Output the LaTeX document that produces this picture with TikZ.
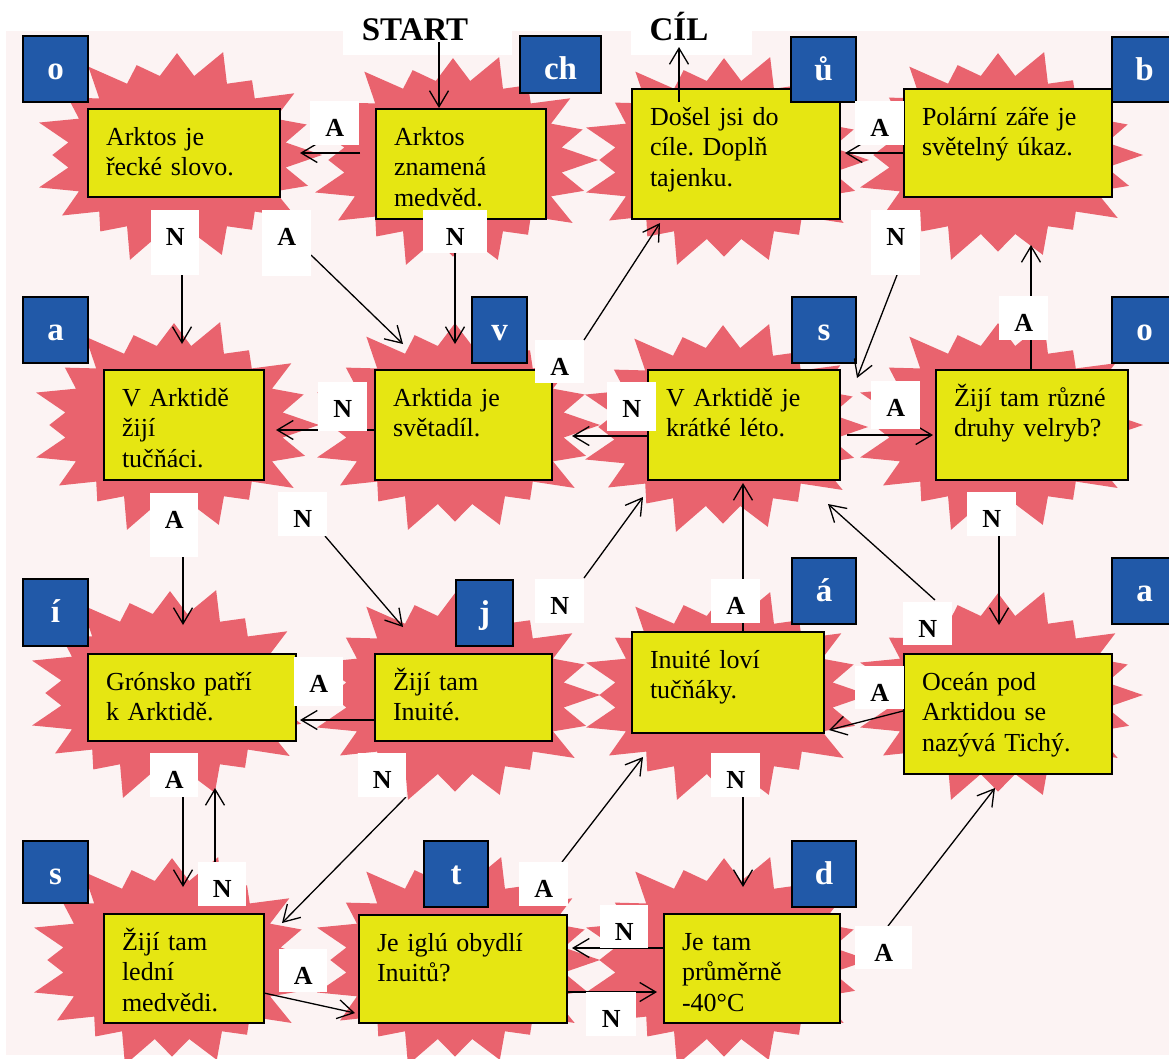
\documentclass[tikz,border=0pt]{standalone}
\usepackage{fontspec}
\setmainfont{Liberation Serif}
\usetikzlibrary{arrows.meta}
\frenchspacing

\definecolor{pagepink}{HTML}{FCF3F3}
\definecolor{burstred}{HTML}{E9636E}
\definecolor{quizyellow}{HTML}{E6E612}
\definecolor{tileblue}{HTML}{2159A8}

\tikzset{
  explosion/.pic={
    \fill[burstred] (145,0) \foreach \a / \f in {18/0.95,36/1.02,54/0.88,72/1.0,90/0.92,
      108/1.05,126/0.9,144/0.98,162/1.0,180/0.86,198/1.0,216/0.93,234/1.04,252/0.9,
      270/0.97,288/1.03,306/0.88,324/1.0,342/0.94,360/1.0}{
      -- ({110*cos(\a-9)},{80*sin(\a-9)}) -- ({145*\f*cos(\a)},{105*\f*sin(\a)})} -- cycle;
  },
  quiz/.style={draw=black, line width=2pt, fill=quizyellow, anchor=north west,
    align=left, inner xsep=18pt, inner ysep=0pt, text height=36pt,
    font=\fontsize{26}{30.5}\selectfont},
  tile/.style={draw=black, line width=2pt, fill=tileblue, text=white, anchor=north west,
    inner sep=0pt, text height=43pt, font=\fontsize{33}{33}\selectfont\bfseries},
  answer/.style={fill=white, anchor=north west, inner sep=0pt, text height=35pt,
    font=\fontsize{26}{26}\selectfont\bfseries},
  goal/.style={font=\fontsize{33}{33}\selectfont\bfseries, anchor=base, inner sep=0pt},
  jump/.style={line width=1.3pt, -{Straight Barb[length=16pt,width=19pt]}},
}

\begin{document}
\begin{tikzpicture}[x=1pt,y=-1pt]
	\useasboundingbox (0,0) rectangle (1169,1058);
	\fill[pagepink] (6,31) rectangle (1169,1055);

	% explosions behind the questions
	\foreach \x / \y in {177/155,453/160,724/160,998/155,
		174/425,455/425,723/427,998/425,
		170/693,455/695,724/695,998/695,
		172/960,455/960,724/960}{
	\pic at (\x,\y) {explosion};}

	% START and CIL
	\fill[white] (343,0) rectangle (512,55);
	\fill[white] (631,0) rectangle (752,55);
	\node[goal] (start) at (415,40) {START};
	\node[goal] (cil) at (679,40) {CÍL};

	% question boxes: name / x / y / width / height / text
	\foreach \n / \x / \y / \w / \h / \t in {
		q1/87/108/192/88/{Arktos je\\řecké slovo.},
		q2/375/108/170/110/{Arktos\\znamená\\medvěd.},
		q3/631/88/208/130/{Došel jsi do\\cíle. Doplň\\tajenku.},
		q4/903/88/208/108/{Polární záře je\\světelný úkaz.},
		q5/103/369/160/110/{V Arktidě\\žijí\\tučňáci.},
		q6/374/369/177/110/{Arktida je\\světadíl.},
		q7/647/369/192/110/{V Arktidě je\\krátké léto.},
		q8/935/369/192/110/{Žijí tam různé\\druhy velryb?},
		q9/87/653/208/87/{Grónsko patří\\k Arktidě.},
		q10/374/653/177/87/{Žijí tam\\Inuité.},
		q11/103/913/160/109/{Žijí tam\\lední\\medvědi.},
		q12/358/914/208/108/{Je iglú obydlí\\Inuitů?},
		q13/631/631/192/101/{Inuité loví\\tučňáky.},
		q14/903/653/208/120/{Oceán pod\\Arktidou se\\nazývá Tichý.},
		q15/663/913/176/109/{Je tam\\průměrně\\-40°C}}{
	\pgfmathsetmacro{\tw}{\w-36}
	\pgfmathsetmacro{\td}{\h-36}
	\node[quiz, text width=\tw pt, text depth=\td pt] (\n) at (\x,\y) {\t};}

	% letter tiles of the secret word
	\foreach \n / \x / \y / \w / \h / \l in {
		k1/22/35/65/66/o, k2/519/35/81/57/ch, k3/790/36/65/65/ů, k4/1111/36/65/65/b,
		k5/22/296/65/66/a, k6/471/296/55/66/v, k7/791/296/64/66/s, k8/1111/296/65/66/o,
		k9/22/578/65/67/í, k10/455/579/57/66/j, k11/791/557/64/66/á, k12/1111/557/65/66/a,
		k13/22/840/65/62/s, k14/423/840/64/66/t, k15/791/840/64/66/d}{
	\pgfmathsetmacro{\td}{\h-43}
	\node[tile, minimum width=\w pt, text depth=\td pt] (\n) at (\x,\y) {\l};}

	% arrow ends
	\foreach \c / \x / \y in {
		s1/439/42, e1/439/108, s2/360/153, e2/300/153, s3/182/275, e3/182/344,
		s4/311/255, e4/403/344, s5/455/253, e5/455/344, s6/584/340, e6/660/223,
		s7/679/102, e7/679/47, s8/903/153, e8/845/153, s9/897/275, e9/857/378,
		s10/1031/369, e10/1031/245, s11/374/430, e11/276/430, s12/647/436, e12/572/436,
		s13/847/435, e13/933/435, s14/183/557, e14/183/625, s15/325/536, e15/403/627,
		s16/584/578, e16/643/497, s17/743/631, e17/743/483, s18/935/600, e18/828/504,
		s19/999/536, e19/999/625, s20/374/720, e20/300/720, s21/903/711, e21/829/730,
		s22/183/797, e22/183/887, s23/215/862, e23/215/788, s24/406/797, e24/282/923,
		s25/264/993, e25/355/1013, s26/562/862, e26/643/757, s27/743/797, e27/743/887,
		s28/663/948, e28/572/948, s29/566/992, e29/657/992, s30/888/926, e30/995/788}{
	\coordinate (\c) at (\x,\y);}

	\foreach \i in {1,...,30}{
	\draw[jump] (s\i) -- (e\i);}

	% answer labels A / N
	\foreach \n / \x / \y / \w / \h / \l in {
		r1/310/101/49/44/A, r2/151/210/48/65/N, r3/262/210/49/66/A, r4/423/210/64/43/N,
		r5/855/101/49/44/A, r6/871/210/49/65/N, r7/318/382/49/49/N, r8/535/340/49/43/A,
		r9/607/382/49/49/N, r10/871/381/49/48/A, r11/999/296/49/44/A, r12/150/493/48/64/A,
		r13/278/492/49/44/N, r14/967/492/49/44/N, r15/535/579/49/44/N, r16/711/579/49/44/A,
		r17/903/602/49/43/N, r18/294/657/49/49/A, r19/855/666/49/43/A, r20/150/753/48/44/A,
		r21/358/753/48/44/N, r22/711/753/49/44/N, r23/198/862/48/44/N, r24/519/862/49/44/A,
		r25/279/949/48/43/A, r26/600/905/48/43/N, r27/586/992/50/44/N, r28/855/926/57/43/A}{
	\pgfmathsetmacro{\td}{\h-35}
	\node[answer, minimum width=\w pt, text depth=\td pt] (\n) at (\x,\y) {\l};}

\end{tikzpicture}
\end{document}
